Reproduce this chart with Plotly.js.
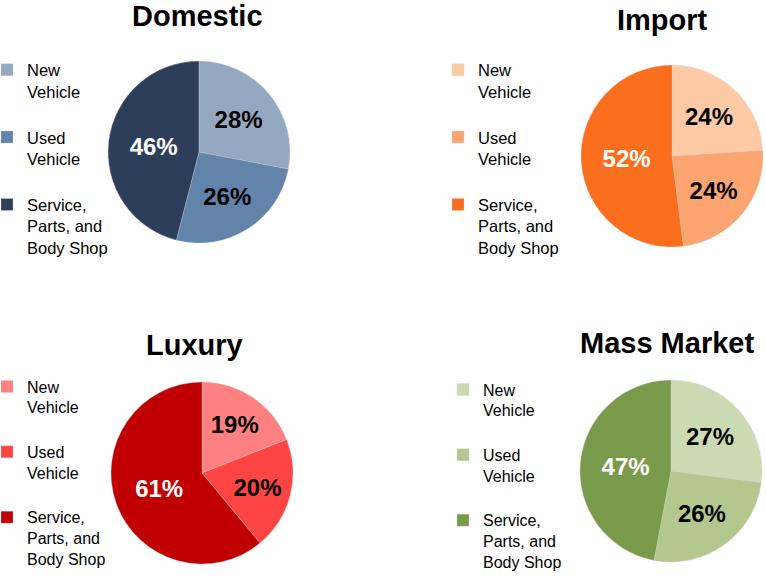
<!DOCTYPE html>
<html>
<head>
<meta charset="utf-8">
<script src="https://cdn.plot.ly/plotly-3.0.1.min.js"></script>
<style>html,body{margin:0;padding:0;background:#fff;}#chart{width:766px;height:576px;}</style>
</head>
<body>
<div id="chart"></div>
<script>
// Data
const categories = ["New Vehicle", "Used Vehicle", "Service, Parts, and Body Shop"];
const legendLabels = ["New<br>Vehicle<br> ", "Used<br>Vehicle<br> ", "Service,<br>Parts, and<br>Body Shop"];
const chartTitles = ["Domestic", "Import", "Luxury", "Mass Market"];
const domesticValues = [28, 26, 46];
const importValues = [24, 24, 52];
const luxuryValues = [19, 20, 61];
const massMarketValues = [27, 26, 47];

const domesticColors = ["#95A8C2", "#6283AA", "#2C3E5A"];
const importColors = ["#FDCAA5", "#FCA571", "#FA6E1E"];
const luxuryColors = ["#FF8080", "#FF4444", "#C00000"];
const massMarketColors = ["#CCDAB3", "#B3C78E", "#7A9A4B"];

const W = 766, H = 576;
function dom(cx, cy, r) {
  return {x: [(cx - r) / W, (cx + r) / W], y: [1 - (cy + r) / H, 1 - (cy - r) / H]};
}
// labels made unique per pie (zero-width spaces) so each legend lists its own slices
function pie(values, colors, domain, legendId, k) {
  const tag = "\u200b".repeat(k);
  return {
    type: "pie",
    labels: legendLabels.map(l => l + tag),
    values: values,
    sort: false,
    direction: "clockwise",
    rotation: 0,
    domain: domain,
    legend: legendId,
    marker: {colors: colors, line: {color: "rgba(210,210,210,0.6)", width: 0.6}},
    textposition: "inside",
    insidetextorientation: "horizontal",
    texttemplate: "%{value}%",
    textfont: {family: "Liberation Sans, Arial, sans-serif", size: 24, color: ["#000000", "#000000", "#ffffff"], weight: "bold"},
    hovertemplate: "%{label}: %{value}%<extra></extra>"
  };
}
const data = [
  pie(domesticValues, domesticColors, dom(199, 152, 91), "legend", 1),
  pie(importValues, importColors, dom(672, 156, 91), "legend2", 2),
  pie(luxuryValues, luxuryColors, dom(202, 473, 91), "legend3", 3),
  pie(massMarketValues, massMarketColors, dom(671, 471, 91), "legend4", 4)
];
function leg(xpx, ypx, fs) {
  return {x: xpx / W, y: 1 - ypx / H, xanchor: "left", yanchor: "top",
          font: {family: "Liberation Sans, Arial, sans-serif", size: fs, color: "#000000"},
          bgcolor: "rgba(0,0,0,0)", borderwidth: 0, valign: "top", traceorder: "normal"};
}
const titleFont = {family: "Liberation Sans, Arial, sans-serif", size: 29, color: "#000000", weight: "bold"};
function ttl(text, xpx, ypx) {
  return {text: "<b>" + text + "</b>", x: xpx / W, y: 1 - ypx / H, xref: "paper", yref: "paper",
          xanchor: "center", yanchor: "middle", showarrow: false, font: titleFont};
}
const layout = {
  width: W, height: H,
  margin: {l: 0, r: 0, t: 0, b: 0, autoexpand: false},
  paper_bgcolor: "#ffffff",
  showlegend: true,
  legend: leg(-13, 52.5, 16.5),
  legend2: leg(438, 52.5, 16.5),
  legend3: leg(-13, 369.5, 16),
  legend4: leg(443, 372.5, 16),
  annotations: [
    ttl(chartTitles[0], 197, 16),
    ttl(chartTitles[1], 662, 20),
    ttl(chartTitles[2], 194, 345),
    ttl(chartTitles[3], 667, 343)
  ]
};
Plotly.newPlot("chart", data, layout, {displayModeBar: false, staticPlot: true});
</script>
</body>
</html>
